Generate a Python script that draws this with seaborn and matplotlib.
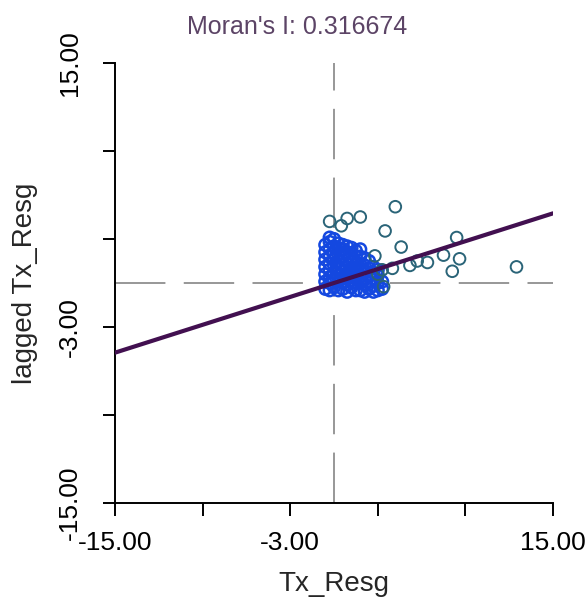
import numpy as np
import pandas as pd
import matplotlib
matplotlib.use("Agg")
import matplotlib.pyplot as plt
import seaborn as sns

# Moran's I y rango de ejes
moran_i = 0.316674
eje_min, eje_max = -15.0, 15.0
ticks = [-15, -9, -3, 3, 9, 15]
ticks_etiqueta = ["-15.00", "", "-3.00", "", "", "15.00"]

# Nube densa de puntos (valores estandarizados)
nube_x = ([-0.6] * 7 + [-0.3] * 9 + [0.0] * 8 + [0.3] * 8 + [0.6] * 8 + [0.9] * 8
          + [1.2] * 7 + [1.5] * 7 + [1.8] * 7 + [2.1] * 6 + [2.4] * 5 + [2.7] * 5
          + [3.0] * 4 + [3.3] * 2)
nube_y = [-0.4, 0.1, 0.6, 1.1, 1.6, 2.1, 2.6,
          -0.5, 0.0, 0.4, 0.9, 1.3, 1.8, 2.3, 2.8, 3.1,
          -0.3, 0.2, 0.7, 1.2, 1.6, 2.0, 2.5, 3.0,
          -0.5, 0.1, 0.5, 1.0, 1.5, 1.9, 2.4, 2.7,
          -0.4, 0.0, 0.4, 0.8, 1.3, 1.8, 2.3, 2.6,
          -0.6, -0.1, 0.3, 0.7, 1.1, 1.6, 2.1, 2.5,
          -0.3, 0.2, 0.6, 1.0, 1.5, 2.0, 2.4,
          -0.5, 0.0, 0.4, 0.9, 1.3, 1.8, 2.2,
          -0.5, 0.0, 0.4, 0.9, 1.3, 1.8, 2.3,
          -0.6, -0.1, 0.3, 0.8, 1.2, 1.7,
          -0.4, 0.1, 0.5, 1.0, 1.5,
          -0.6, -0.2, 0.3, 0.7, 1.1,
          -0.5, 0.0, 0.5, 0.9,
          -0.4, 0.1]

# Puntos aislados
aislados_x = [4.2, -0.3, 0.5, 0.9, 1.8, 3.5, 4.6, 2.8, 8.4, 7.5, 8.6, 8.1,
              12.5, 6.4, 5.2, 5.7, 3.4, 3.0, 3.3, 4.0]
aislados_y = [5.2, 4.2, 3.9, 4.4, 4.5, 3.55, 2.45, 1.85, 3.1, 1.9, 1.65, 0.8,
              1.1, 1.4, 1.2, 1.5, -0.25, 0.6, 0.9, 1.0]

# Recta de regresion (pendiente = I de Moran)
recta_x = [eje_min, eje_max]
recta_y = [moran_i * v for v in recta_x]

df_nube = pd.DataFrame({"x": nube_x, "y": nube_y})
df_aisl = pd.DataFrame({"x": aislados_x, "y": aislados_y})
df_recta = pd.DataFrame({"x": recta_x, "y": recta_y})

sns.set_style("ticks")
plt.rcParams["font.family"] = ["Liberation Sans", "DejaVu Sans"]

fig = plt.figure(figsize=(5.88, 6.04), dpi=100)
ax = fig.add_axes([115 / 588, 1 - 503 / 604, 438 / 588, 440 / 604])

ax.axhline(0, color="#7a7a7a", lw=1.1, dashes=(33, 12), zorder=1)
ax.axvline(0, color="#7a7a7a", lw=1.1, dashes=(33, 12), zorder=1)

sns.scatterplot(data=df_nube, x="x", y="y", ax=ax, marker="o", s=70,
                facecolor="none", edgecolor="#1448e0", linewidth=1.8, zorder=2)
sns.scatterplot(data=df_aisl, x="x", y="y", ax=ax, marker="o", s=70,
                facecolor="none", edgecolor="#2a6478", linewidth=1.4, zorder=2)
sns.lineplot(data=df_recta, x="x", y="y", ax=ax, color="#421050", lw=3, zorder=3)

ax.set_xlim(eje_min, eje_max)
ax.set_ylim(eje_min, eje_max)
ax.set_xticks(ticks)
ax.set_xticklabels(ticks_etiqueta, fontsize=19)
ax.set_yticks(ticks)
ax.set_yticklabels(ticks_etiqueta, fontsize=19, rotation=90, va="center")
ax.tick_params(length=9, width=1.4, colors="black")
ax.tick_params(axis="x", pad=11)
ax.tick_params(axis="y", pad=15)
for lado in ["top", "right"]:
    ax.spines[lado].set_visible(False)
for lado in ["left", "bottom"]:
    ax.spines[lado].set_linewidth(1.4)
    ax.spines[lado].set_color("black")

ax.set_xlabel("Tx_Resg", fontsize=20, labelpad=12)
ax.set_ylabel("lagged Tx_Resg", fontsize=20, labelpad=14)
fig.suptitle("Moran's I: 0.316674", x=0.505, y=0.975, fontsize=18,
             color="#5c4466")

fig.savefig("out.png", dpi=100)
